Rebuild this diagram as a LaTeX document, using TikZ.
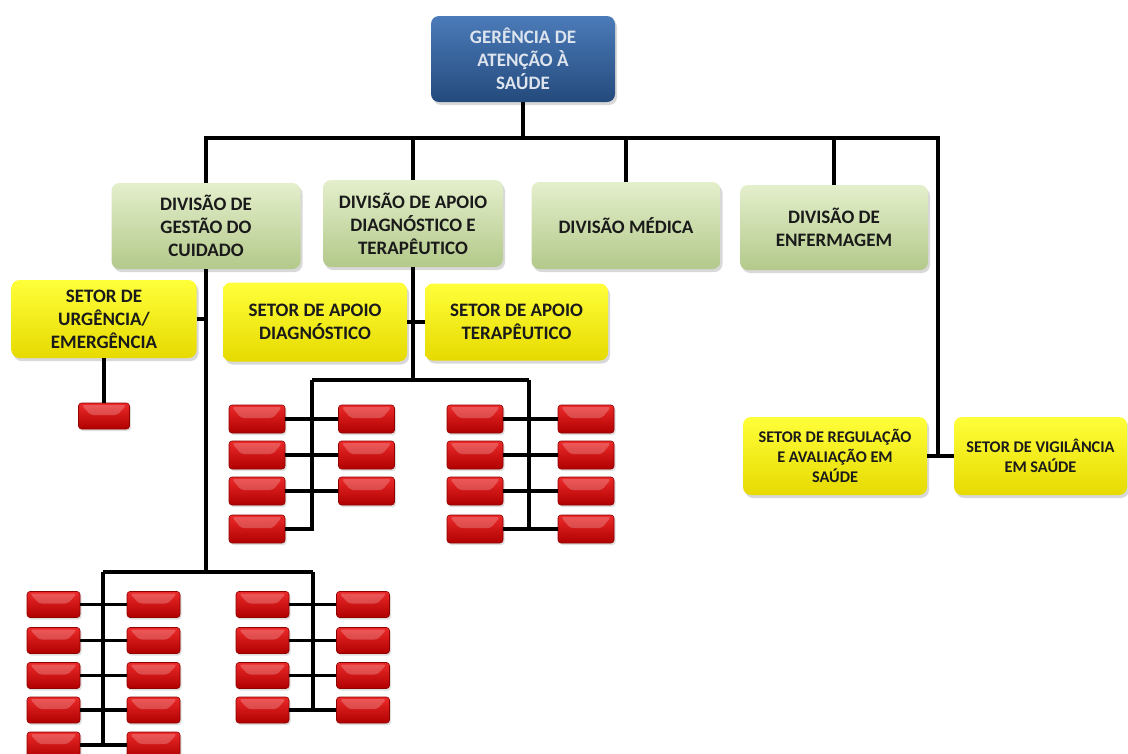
\documentclass[tikz,border=0pt]{standalone}
\usepackage{fontspec}
\setmainfont{Carlito}
\usetikzlibrary{shadows}
\definecolor{bluetop}{HTML}{4B7BB9}
\definecolor{bluebot}{HTML}{244A7C}
\definecolor{bluetext}{HTML}{DDE4EE}
\definecolor{greentop}{HTML}{E4EFCC}
\definecolor{greenbot}{HTML}{B3C98A}
\definecolor{yeltop}{HTML}{FFFF3A}
\definecolor{yelbot}{HTML}{E6DA00}
\definecolor{redtop}{HTML}{EC2A2A}
\definecolor{redbot}{HTML}{B00000}
\definecolor{redline}{HTML}{8E0000}
\definecolor{txt}{HTML}{1A1A1A}
\tikzset{
  conn/.style={line width=3.5pt, black},
  box/.style={rounded corners=8pt, inner sep=0pt, align=center, text=txt,
    font=\bfseries\fontsize{19}{23}\selectfont,
    drop shadow={opacity=0.3, shadow xshift=2pt, shadow yshift=-3pt}},
  topbox/.style={box, top color=bluetop, bottom color=bluebot, text=bluetext,
    minimum width=184pt, minimum height=86pt},
  divbox/.style={box, top color=greentop, bottom color=greenbot,
    minimum width=189pt, minimum height=86pt},
  setbox/.style={box, top color=yeltop, bottom color=yelbot,
    minimum width=184pt, minimum height=78pt},
  smallset/.style={setbox, font=\bfseries\fontsize{16.3}{20}\selectfont},
  redbox/.style={rounded corners=3pt, inner sep=0pt, draw=redline, line width=0.6pt,
    top color=redtop, bottom color=redbot, minimum width=56pt, minimum height=28pt,
    drop shadow={opacity=0.25, shadow xshift=1.5pt, shadow yshift=-2pt},
    path picture={\fill[white,opacity=0.22]
      ([xshift=3pt,yshift=-2pt]path picture bounding box.north west) --
      ([xshift=-3pt,yshift=-2pt]path picture bounding box.north east) --
      ([xshift=-12pt,yshift=1pt]path picture bounding box.east) --
      ([xshift=12pt,yshift=1pt]path picture bounding box.west) -- cycle;}},
  redsm/.style={redbox, minimum width=53pt, minimum height=26pt}
}
\begin{document}
\begin{tikzpicture}[x=1pt,y=-1pt]
\useasboundingbox (0,0) rectangle (1128,753);
\fill[white] (0,0) rectangle (1128,753);

% main boxes
\node[topbox] (top) at (523,59) {GERÊNCIA DE\\ATENÇÃO À\\SAÚDE};
\node[divbox] (gestao) at (206,226) {DIVISÃO DE\\GESTÃO DO\\CUIDADO};
\node[divbox, minimum width=180pt, minimum height=87pt] (apoio) at (413,223.5) {DIVISÃO DE APOIO\\DIAGNÓSTICO E\\TERAPÊUTICO};
\node[divbox, minimum height=87pt] (medica) at (626,225.5) {DIVISÃO MÉDICA};
\node[divbox, minimum width=188pt, minimum height=85pt] (enferm) at (834,227.5) {DIVISÃO DE\\ENFERMAGEM};

\node[setbox, minimum width=185pt] (urg) at (104,319) {SETOR DE\\URGÊNCIA/\\EMERGÊNCIA};
\node[setbox, minimum height=79pt] (sdiag) at (315,322) {SETOR DE APOIO\\DIAGNÓSTICO};
\node[setbox, minimum width=183pt, minimum height=77pt] (ster) at (516.5,322) {SETOR DE APOIO\\TERAPÊUTICO};
\node[smallset] (sreg) at (835,456) {SETOR DE REGULAÇÃO\\E AVALIAÇÃO EM\\SAÚDE};
\node[smallset, minimum width=173pt] (svig) at (1040.5,456) {SETOR DE VIGILÂNCIA\\EM SAÚDE};

\node[redbox, minimum width=51pt, minimum height=26pt] (ur1) at (104,416) {};

% middle red group
\foreach \r/\y in {1/419,2/455,3/491,4/529}{
  \node[redbox] (m\r a) at (257,\y) {};
  \node[redbox] (m\r c) at (475,\y) {};
  \node[redbox] (m\r d) at (586,\y) {};
}
\foreach \r/\y in {1/419,2/455,3/491}{
  \node[redbox] (m\r b) at (366.5,\y) {};
}
% bottom red group
\foreach \r/\y in {1/604.5,2/640.5,3/675.5,4/710,5/745}{
  \node[redsm] (b\r a) at (53.5,\y) {};
  \node[redsm] (b\r b) at (153.5,\y) {};
}
\foreach \r/\y in {1/604.5,2/640.5,3/675.5,4/710}{
  \node[redsm] (b\r c) at (262.5,\y) {};
  \node[redsm] (b\r d) at (363,\y) {};
}

% connectors
\coordinate (bus) at (523,138);
\coordinate (busR) at (938,138);
\coordinate (junR) at (938,456);
\draw[conn] (top.south) -- (bus);
\draw[conn] (gestao.north) |- (bus) -- (busR) -- (junR);
\draw[conn] (apoio.north) -- (apoio.north |- bus);
\draw[conn] (medica.north) -- (medica.north |- bus);
\draw[conn] (enferm.north) -- (enferm.north |- bus);
\draw[conn] (sreg.east) -- (svig.west);

\coordinate (g1) at (206,572);
\draw[conn] (gestao.south) -- (g1);
\draw[conn] (urg.east) -- (urg.east -| gestao);
\draw[conn] (urg.south) -- (ur1.north);

\coordinate (a1) at (413,380);
\draw[conn] (apoio.south) -- (a1);
\draw[conn] (sdiag.east) -- (ster.west);

\coordinate (mL) at (312,380);
\coordinate (mR) at (529,380);
\draw[conn] (mL) -- (mR);
\draw[conn] (m4a.east) -| (mL);
\draw[conn] (mR) -- (mR |- m4d);
\foreach \r in {1,2,3}{ \draw[conn] (m\r a.east) -- (m\r b.west); }
\foreach \r in {1,2,3,4}{ \draw[conn] (m\r c.east) -- (m\r d.west); }

\coordinate (bL) at (103,572);
\coordinate (bR) at (313,572);
\draw[conn] (bL) -- (bR);
\draw[conn] (bL) -- (bL |- b5a);
\draw[conn] (bR) -- (bR |- b4c);
\foreach \r in {1,2,3,4,5}{ \draw[conn] (b\r a.east) -- (b\r b.west); }
\foreach \r in {1,2,3,4}{ \draw[conn] (b\r c.east) -- (b\r d.west); }
\end{tikzpicture}
\end{document}
